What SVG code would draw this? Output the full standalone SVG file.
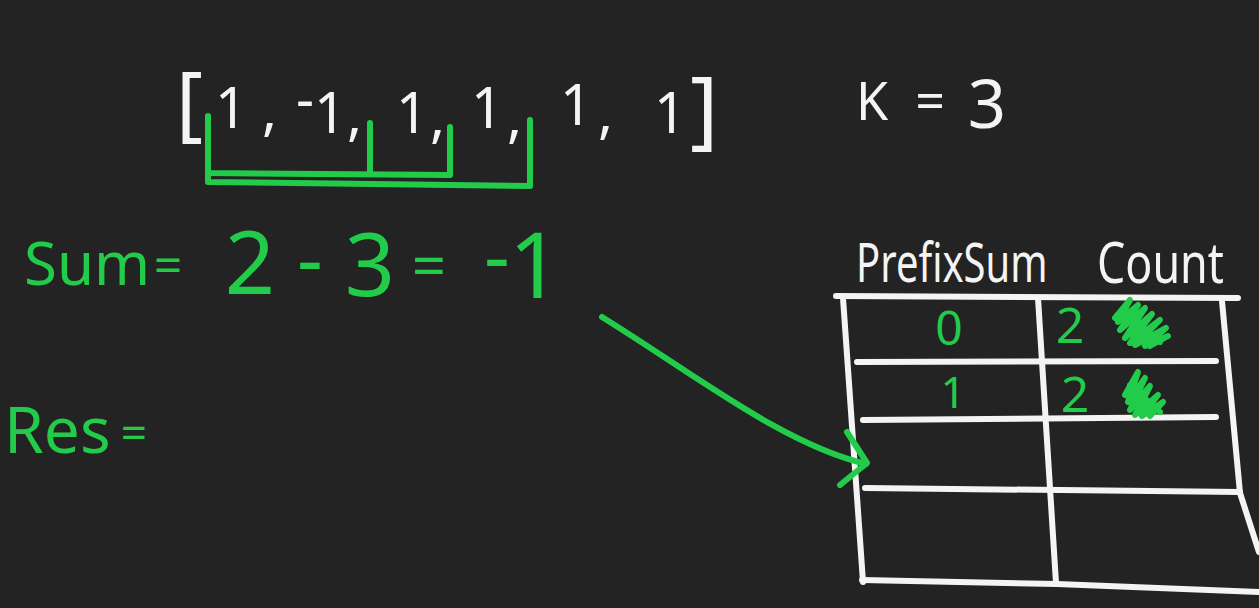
<svg xmlns="http://www.w3.org/2000/svg" width="1259" height="608" viewBox="0 0 1259 608">
<style>
.w{fill:#f4f4f4;font-family:"Noto Sans",sans-serif}
.g{fill:#22cc4a;font-family:"Noto Sans",sans-serif}
.ws{fill:none;stroke:#f4f4f4;stroke-width:6;stroke-linecap:round;stroke-linejoin:round}
.gs{fill:none;stroke:#22cc4a;stroke-width:6;stroke-linecap:round;stroke-linejoin:round}
</style>
<rect width="1259" height="608" fill="#232323"/>
<g id="array">
<text class="w" font-size="56"><tspan x="176" y="131" font-size="82">[</tspan><tspan x="231" y="128" text-anchor="middle">1</tspan><tspan x="262" y="130">,</tspan><tspan x="296" y="119">-</tspan><tspan x="330" y="133" text-anchor="middle">1</tspan><tspan x="347" y="135">,</tspan><tspan x="412" y="133" text-anchor="middle">1</tspan><tspan x="430" y="137">,</tspan><tspan x="487" y="128" text-anchor="middle">1</tspan><tspan x="507" y="137">,</tspan><tspan x="576" y="125" text-anchor="middle">1</tspan><tspan x="598" y="133">,</tspan><tspan x="670" y="133" text-anchor="middle">1</tspan><tspan x="690" y="138" font-size="86">]</tspan></text>
</g>
<g id="k">
<text class="w" font-size="52"><tspan x="856" y="120">K</tspan><tspan x="930" y="120" text-anchor="middle">=</tspan><tspan x="987" y="128" font-size="67" text-anchor="middle">3</tspan></text>
</g>
<g id="sum">
<text class="g" font-size="60"><tspan x="24" y="285">Sum</tspan><tspan x="168" y="283" font-size="50" text-anchor="middle">=</tspan><tspan x="250" y="294" font-size="88" text-anchor="middle">2</tspan><tspan x="310" y="287" font-size="80" text-anchor="middle">-</tspan><tspan x="370" y="296" font-size="88" text-anchor="middle">3</tspan><tspan x="429" y="287" font-size="60" text-anchor="middle">=</tspan><tspan x="497" y="284" font-size="80" text-anchor="middle">-</tspan><tspan x="535" y="298" font-size="92" text-anchor="middle">1</tspan></text>
</g>
<g id="res">
<text class="g" font-size="64"><tspan x="4" y="453">Res</tspan><tspan x="134" y="449" font-size="46" text-anchor="middle">=</tspan></text>
</g>
<g id="table">
<text class="w" font-size="54" transform="translate(856,282) scale(0.74,1)">PrefixSum</text>
<text class="w" font-size="56" transform="translate(1097,283) scale(0.8,1)">Count</text>
<path class="ws" d="M836,296 L1238,298"/>
<path class="ws" d="M843,298 L863,582"/>
<path class="ws" d="M1038,298 L1056,583"/>
<path class="ws" d="M1222,301 L1240,493 L1259,552"/>
<path class="ws" d="M857,362 L1216,361"/>
<path class="ws" d="M863,420 L1216,417"/>
<path class="ws" d="M865,488 L1240,492"/>
<path class="ws" d="M862,580 L1057,584 L1259,592"/>
<text class="g" font-size="48" x="949" y="345" text-anchor="middle">0</text>
<text class="g" font-size="44" x="953" y="408" text-anchor="middle">1</text>
<text class="g" font-size="50" x="1070" y="343" text-anchor="middle">2</text>
<text class="g" font-size="50" x="1075" y="412" text-anchor="middle">2</text>
<path class="gs" stroke-width="5" d="M1115,318 L1130,300 L1118,322 L1138,305 L1120,330 L1145,308 L1125,338 L1152,314 L1130,343 L1160,320 L1135,345 L1166,328 L1145,346 L1168,336 L1150,346 M1122,310 L1160,342"/>
<path class="gs" stroke-width="5" d="M1125,395 L1138,372 L1128,402 L1145,378 L1130,410 L1150,386 L1135,415 L1158,395 L1142,416 L1163,402 L1150,416 M1130,385 L1160,412"/>
</g>
<g id="connectors">
<path class="gs" d="M208,116 L208,173 L450,175 L450,127 M370,123 L370,172"/>
<path class="gs" d="M208,173 L208,182 L530,186 L530,120"/>
<path class="gs" d="M602,317 C700,378 785,445 866,464"/>
<path class="gs" d="M847,432 L867,463 L840,485"/>
</g>
</svg>
